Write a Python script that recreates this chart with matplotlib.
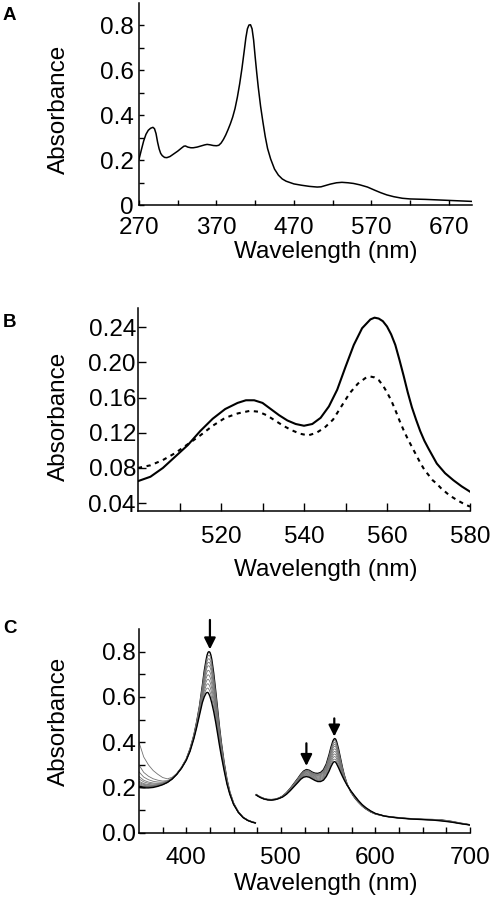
import numpy as np
import matplotlib
matplotlib.use('Agg')
import matplotlib.pyplot as plt
import matplotlib.ticker as mticker

plt.rcParams['font.family'] = ['Liberation Sans', 'DejaVu Sans']
plt.rcParams['font.size'] = 17.5

# ---- panel A: full spectrum
wl_a = [270, 273, 276, 279, 282, 285, 288, 290, 292, 294, 296, 298, 300, 303, 306, 310,
        315, 320, 325, 328, 330, 333, 337, 340, 345, 350, 355, 358, 362, 366, 370, 373,
        376, 379, 382, 385, 388, 391, 394, 397, 400, 403, 406, 408, 410, 412, 414, 416,
        418, 420, 422, 424, 427, 430, 433, 436, 440, 445, 450, 455, 460, 465, 470, 480,
        490, 500, 505, 510, 517, 525, 532, 540, 547, 555, 565, 575, 582, 590, 599, 610,
        620, 640, 660, 680, 700]
abs_a = [0.203, 0.245, 0.285, 0.315, 0.333, 0.342, 0.346, 0.340, 0.318, 0.280, 0.250,
         0.230, 0.220, 0.212, 0.211, 0.216, 0.228, 0.240, 0.254, 0.262, 0.263, 0.258,
         0.255, 0.255, 0.258, 0.263, 0.268, 0.270, 0.268, 0.265, 0.264, 0.266, 0.276,
         0.292, 0.312, 0.336, 0.362, 0.392, 0.430, 0.480, 0.540, 0.610, 0.690, 0.745,
         0.785, 0.802, 0.803, 0.785, 0.735, 0.660, 0.590, 0.525, 0.440, 0.370, 0.305,
         0.252, 0.205, 0.160, 0.133, 0.116, 0.106, 0.100, 0.094, 0.088, 0.083, 0.080,
         0.081, 0.086, 0.093, 0.099, 0.101, 0.099, 0.096, 0.090, 0.080, 0.065, 0.055,
         0.045, 0.037, 0.030, 0.027, 0.025, 0.022, 0.019, 0.016]

# ---- panel B: Q-band region, solid and dashed
wl_b_solid = [500, 503, 506, 509, 512, 515, 518, 521, 524, 526, 528, 530, 532, 534, 536,
              538, 540, 542, 544, 546, 548, 550, 552, 554, 556, 557, 558, 559, 560, 561,
              562, 563, 564, 565, 566, 567, 568, 569, 570, 572, 574, 576, 578, 580]
abs_b_solid = [0.065, 0.070, 0.080, 0.093, 0.106, 0.122, 0.136, 0.147, 0.154, 0.157,
               0.157, 0.154, 0.147, 0.140, 0.134, 0.130, 0.128, 0.130, 0.137, 0.150,
               0.169, 0.195, 0.220, 0.239, 0.249, 0.251, 0.250, 0.247, 0.241, 0.232,
               0.220, 0.203, 0.185, 0.166, 0.149, 0.135, 0.122, 0.111, 0.102, 0.085,
               0.074, 0.066, 0.059, 0.053]
wl_b_dash = [500, 503, 506, 509, 512, 515, 518, 521, 524, 527, 529, 531, 533, 535, 537,
             539, 541, 543, 545, 547, 549, 551, 553, 555, 556, 557, 558, 559, 560, 561,
             562, 563, 564, 565, 566, 567, 568, 569, 570, 571, 572, 573, 575, 577, 579, 580]
abs_b_dash = [0.080, 0.083, 0.089, 0.097, 0.107, 0.117, 0.128, 0.137, 0.142, 0.145,
              0.144, 0.140, 0.134, 0.128, 0.123, 0.119, 0.117, 0.120, 0.126, 0.135,
              0.150, 0.165, 0.176, 0.183, 0.184, 0.183, 0.180, 0.174, 0.166, 0.157,
              0.146, 0.134, 0.123, 0.113, 0.104, 0.095, 0.086, 0.078, 0.072, 0.066,
              0.062, 0.057, 0.049, 0.043, 0.038, 0.036]

# ---- panel C: time series, first (top) and last (bottom) spectra
wl_c1 = [350, 355, 360, 365, 370, 375, 380, 385, 390, 395, 400, 404, 408, 411, 414, 417,
         419, 421, 422, 423, 424, 425, 426, 427, 429, 431, 433, 435, 437, 440, 443, 446,
         450, 455, 460, 465, 470, 473]
top_c1 = [0.205, 0.203, 0.203, 0.205, 0.208, 0.214, 0.223, 0.238, 0.260, 0.288, 0.325,
          0.370, 0.430, 0.490, 0.560, 0.650, 0.715, 0.765, 0.785, 0.797, 0.800, 0.797,
          0.785, 0.765, 0.705, 0.630, 0.550, 0.470, 0.400, 0.310, 0.235, 0.180, 0.130,
          0.092, 0.068, 0.055, 0.047, 0.044]
bot_c1 = [0.200, 0.198, 0.198, 0.200, 0.205, 0.212, 0.222, 0.237, 0.258, 0.285, 0.320,
          0.360, 0.415, 0.465, 0.520, 0.575, 0.600, 0.617, 0.620, 0.619, 0.612, 0.602,
          0.588, 0.572, 0.535, 0.490, 0.440, 0.388, 0.340, 0.275, 0.215, 0.170, 0.125,
          0.090, 0.067, 0.054, 0.046, 0.043]
# extra near-UV rise of the grey traces (largest one), 0 beyond 395 nm
uv_rise = [0.195, 0.132, 0.097, 0.070, 0.050, 0.030, 0.015, 0.007, 0.002, 0.0, 0.0,
           0.0, 0.0, 0.0, 0.0, 0.0, 0.0, 0.0, 0.0, 0.0, 0.0, 0.0, 0.0, 0.0, 0.0, 0.0,
           0.0, 0.0, 0.0, 0.0, 0.0, 0.0, 0.0, 0.0, 0.0, 0.0, 0.0, 0.0]

wl_c2 = [474, 478, 482, 486, 490, 494, 498, 502, 506, 510, 514, 518, 521, 524, 527, 530,
         533, 536, 539, 542, 545, 548, 551, 553, 555, 556, 557, 558, 559, 561, 563, 565,
         567, 570, 574, 578, 582, 586, 590, 595, 600, 610, 620, 630, 640, 650, 660, 670,
         680, 690, 700]
top_c2 = [0.168, 0.158, 0.151, 0.147, 0.146, 0.148, 0.153, 0.162, 0.177, 0.196, 0.218,
          0.240, 0.258, 0.272, 0.279, 0.276, 0.268, 0.263, 0.262, 0.266, 0.278, 0.303,
          0.345, 0.378, 0.405, 0.413, 0.416, 0.413, 0.402, 0.370, 0.330, 0.290, 0.255,
          0.215, 0.180, 0.155, 0.135, 0.118, 0.105, 0.092, 0.083, 0.073, 0.068, 0.064,
          0.061, 0.059, 0.058, 0.056, 0.050, 0.042, 0.035]
bot_c2 = [0.166, 0.156, 0.149, 0.145, 0.144, 0.146, 0.151, 0.158, 0.170, 0.186, 0.204,
          0.222, 0.236, 0.245, 0.248, 0.245, 0.238, 0.231, 0.226, 0.226, 0.232, 0.248,
          0.272, 0.292, 0.308, 0.313, 0.314, 0.311, 0.304, 0.287, 0.268, 0.250, 0.233,
          0.210, 0.185, 0.163, 0.142, 0.124, 0.110, 0.096, 0.085, 0.073, 0.067, 0.063,
          0.060, 0.058, 0.056, 0.052, 0.047, 0.040, 0.034]

# Soret maxima of each trace and their A(350) rise
soret_peaks = [0.80, 0.785, 0.77, 0.755, 0.74, 0.72, 0.70, 0.68, 0.66, 0.64, 0.62]
rise_350 = [0.0, 0.195, 0.095, 0.065, 0.045, 0.035, 0.025, 0.02, 0.015, 0.01, 0.0]

# arrows (wavelength, tail, head)
arrows_c = [(425, 0.94, 0.81), (527, 0.395, 0.295), (556.5, 0.505, 0.425)]


def style_axes(ax):
    for s in ['top', 'right']:
        ax.spines[s].set_visible(False)
    for s in ['left', 'bottom']:
        ax.spines[s].set_linewidth(1.1)


fig = plt.figure(figsize=(4.9, 9.05), dpi=100)

# ---------- A
ax1 = fig.add_axes([139/490, 1-205/905, 333/490, 202/905])
ax1.plot(wl_a, abs_a, color='k', lw=1.1)
ax1.set_xlim(270, 700)
ax1.set_ylim(0, 0.9)
ax1.xaxis.set_major_locator(mticker.FixedLocator([270, 370, 470, 570, 670]))
ax1.xaxis.set_minor_locator(mticker.FixedLocator([320, 420, 520, 620]))
ax1.yaxis.set_major_locator(mticker.FixedLocator([0, 0.2, 0.4, 0.6, 0.8]))
ax1.yaxis.set_minor_locator(mticker.FixedLocator([0.1, 0.3, 0.5, 0.7]))
ax1.yaxis.set_major_formatter(mticker.FixedFormatter(['0', '0.2', '0.4', '0.6', '0.8']))
ax1.tick_params(which='both', direction='in', length=3.5, width=1.0)
ax1.tick_params(axis='x', pad=9)
ax1.tick_params(axis='y', pad=4)
style_axes(ax1)
ax1.set_xlabel('Wavelength (nm)')
ax1.xaxis.set_label_coords(0.5616, -0.18)

# ---------- B
ax2 = fig.add_axes([138/490, 1-511/905, 332/490, 203/905])
ax2.plot(wl_b_solid, abs_b_solid, color='k', lw=1.5)
ax2.plot(wl_b_dash, abs_b_dash, color='k', lw=1.5, linestyle=(0, (2, 2.2)))
ax2.set_xlim(500, 580)
ax2.set_ylim(0.031, 0.262)
ax2.xaxis.set_major_locator(mticker.FixedLocator([520, 540, 560, 580]))
ax2.xaxis.set_minor_locator(mticker.FixedLocator([510, 530, 550, 570]))
ax2.yaxis.set_major_locator(mticker.FixedLocator([0.04, 0.08, 0.12, 0.16, 0.20, 0.24]))
ax2.yaxis.set_major_formatter(mticker.FormatStrFormatter('%.2f'))
ax2.tick_params(which='both', direction='in', length=5.5, width=1.0)
ax2.tick_params(axis='x', pad=11)
ax2.tick_params(axis='y', pad=1.5)
style_axes(ax2)
ax2.set_xlabel('Wavelength (nm)')
ax2.xaxis.set_label_coords(0.566, -0.235)

# ---------- C
ax3 = fig.add_axes([139/490, 1-832.7/905, 331/490, 203.7/905])
top1 = np.array(top_c1)
bot1 = np.array(bot_c1)
top2 = np.array(top_c2)
bot2 = np.array(bot_c2)
rise = np.array(uv_rise)
span = soret_peaks[0] - soret_peaks[-1]
for i, pk in enumerate(soret_peaks):
    w = (pk - soret_peaks[-1]) / span
    y1 = bot1 + w*(top1 - bot1) + rise*rise_350[i]/uv_rise[0]
    y2 = bot2 + w*(top2 - bot2)
    if i == 0 or i == len(soret_peaks) - 1:
        col, lw = 'k', 1.0
    else:
        col, lw = '0.45', 0.6
    ax3.plot(wl_c1, y1, color=col, lw=lw)
    ax3.plot(wl_c2, y2, color=col, lw=lw)

for x, y0, y1 in arrows_c:
    ax3.annotate('', xy=(x, y1), xytext=(x, y0), annotation_clip=False,
                 arrowprops=dict(arrowstyle='-|>', color='k', lw=1.6,
                                 mutation_scale=17, shrinkA=0, shrinkB=0))

ax3.set_xlim(350, 700)
ax3.set_ylim(0, 0.9)
ax3.xaxis.set_major_locator(mticker.FixedLocator([400, 500, 600, 700]))
ax3.xaxis.set_minor_locator(mticker.FixedLocator([375, 425, 450, 475, 525, 550, 575,
                                                  625, 650, 675]))
ax3.yaxis.set_major_locator(mticker.FixedLocator([0, 0.2, 0.4, 0.6, 0.8]))
ax3.yaxis.set_minor_locator(mticker.FixedLocator([0.1, 0.3, 0.5, 0.7]))
ax3.yaxis.set_major_formatter(mticker.FormatStrFormatter('%.1f'))
ax3.tick_params(which='both', direction='in', length=4, width=1.0)
ax3.tick_params(axis='x', pad=10)
ax3.tick_params(axis='y', pad=2)
style_axes(ax3)
ax3.set_xlabel('Wavelength (nm)')
ax3.xaxis.set_label_coords(0.565, -0.2)

# y labels and panel letters, placed in figure coords
for yc in [109, 416.7, 721.7]:
    fig.text(59/490, 1-yc/905, 'Absorbance', rotation=90, ha='center', va='center')
for letter, yb in [('A', 20), ('B', 327), ('C', 633)]:
    fig.text(3/490, 1-yb/905, letter, fontsize=13.5, fontweight='bold', va='baseline')

plt.savefig('out.png', dpi=100)
